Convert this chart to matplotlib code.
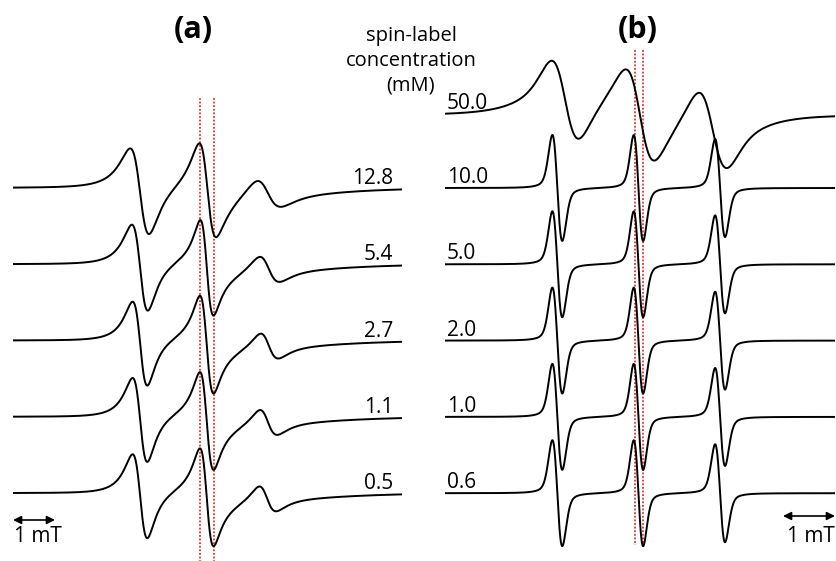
import numpy as np
import matplotlib.pyplot as plt

plt.rcParams['font.family'] = ['Open Sans', 'DejaVu Sans']

# ---- panel (a): spectra, top to bottom ----
labels_a = ["12.8", "5.4", "2.7", "1.1", "0.5"]
# per spectrum: low-field line, centre line, broad centre-line wing, high-field line
centre_a = [[3.04, 4.62, 4.62, 6.02],
            [3.04, 4.61, 4.61, 6.05],
            [3.04, 4.61, 4.61, 6.06],
            [3.04, 4.61, 4.61, 6.04],
            [3.04, 4.61, 4.61, 6.02]]
width_a = [[0.45, 0.38, 0.90, 0.58],
           [0.38, 0.30, 0.90, 0.48],
           [0.35, 0.31, 0.90, 0.43],
           [0.35, 0.31, 0.90, 0.42],
           [0.35, 0.31, 0.90, 0.41]]
amp_a = [[43, 42.7, 7, 14],
         [43, 44, 7, 13],
         [42, 45, 7, 13],
         [42, 45, 7, 13],
         [42, 45, 7, 13]]
# dispersion admixture of each line
disp_a = [[-9.7, 7.5, 0, 8.0],
          [-9.0, 4.0, 0, 7.0],
          [-8.5, 2.0, 0, 6.0],
          [-8.5, 2.0, 0, 6.0],
          [-8.5, 2.0, 0, 6.0]]
# slow baseline dip: centre (mT), width (mT), depth
dip_a = [5.6, 2.0, 5.0]
marks_a = [4.45, 4.79]      # dotted reference fields (mT)

# ---- panel (b) ----
labels_b = ["50.0", "10.0", "5.0", "2.0", "1.0", "0.6"]
centre_b = [[2.31, 3.75, 5.15],
            [2.16, 3.72, 5.29],
            [2.16, 3.72, 5.29],
            [2.16, 3.72, 5.29],
            [2.16, 3.72, 5.29],
            [2.16, 3.72, 5.29]]
width_b = [[0.54, 0.54, 0.56],
           [0.19, 0.18, 0.19],
           [0.19, 0.18, 0.19],
           [0.19, 0.18, 0.19],
           [0.19, 0.18, 0.19],
           [0.19, 0.18, 0.19]]
amp_b = [[42, 44, 41],
         [53, 53, 49],
         [53, 53, 49],
         [53, 53, 49],
         [53, 53, 49],
         [53, 53, 49]]
lorentz_b = [0.8, 0.3, 0.3, 0.3, 0.3, 0.3]
# exchange-broadened component: centre (mT), pp width (mT), amplitude
broad_b = [[3.72, 2.2, 12.6],
           [3.72, 2.2, 0],
           [3.72, 2.2, 0],
           [3.72, 2.2, 0],
           [3.72, 2.2, 0],
           [3.72, 2.2, 0]]
marks_b = [3.654, 3.808]


def dlor(x, x0, pp):
    u = (x - x0) / (pp * np.sqrt(3) / 2)
    return -u / (1 + u**2)**2 / 0.3248


def ddisp(x, x0, pp):
    u = (x - x0) / (pp * np.sqrt(3) / 2)
    return (1 - u**2) / (1 + u**2)**2


def dgau(x, x0, pp):
    u = (x - x0) / (pp / 2)
    return -u * np.exp(-u**2 / 2) / 0.6065


def lines(x, cs, ws, As, eta, Ds=None):
    y = np.zeros_like(x)
    Ds = Ds if Ds is not None else [0] * len(cs)
    for c, w, A, D in zip(cs, ws, As, Ds):
        y += A * (eta * dlor(x, c, w) + (1 - eta) * dgau(x, c, w))
        y += D * ddisp(x, c, w)
    return y


fig = plt.figure(figsize=(8.37, 5.61), dpi=100)
W, H = 837, 561
top = 188          # pixel row of the first baseline
step = 76.3

ax_a = fig.add_axes([13 / W, 0, 389 / W, 1])
ax_b = fig.add_axes([445 / W, 0, 390 / W, 1])
for ax in (ax_a, ax_b):
    ax.set_ylim(top - H, top)
    ax.axis('off')
ax_a.set_xlim(0, 389 / 42)
ax_b.set_xlim(0, 390 / 52)

xa = np.linspace(0, 389 / 42, 1500)
dip = -dip_a[2] * np.exp(-(xa - dip_a[0])**2 / (2 * dip_a[1]**2))
for i, lab in enumerate(labels_a):
    off = -i * step
    ya = lines(xa, centre_a[i], width_a[i], amp_a[i], 1.0, disp_a[i]) + dip
    ax_a.plot(xa, off + ya, color='black', lw=1.4, zorder=3)
    ax_a.text(9.05, off + 4, lab, ha='right', va='baseline', fontsize=15)
for m in marks_a:
    ax_a.plot([m, m], [top - 98, top - H], color='#e8322c', lw=1.3,
              ls=(0, (1, 1)), zorder=2)

xb = np.linspace(0, 390 / 52, 1500)
for i, lab in enumerate(labels_b):
    off = 73 if i == 0 else -(i - 1) * step
    yb = lines(xb, centre_b[i], width_b[i], amp_b[i], lorentz_b[i])
    yb += broad_b[i][2] * dgau(xb, broad_b[i][0], broad_b[i][1])
    ax_b.plot(xb, off + yb, color='black', lw=1.4, zorder=3)
    ax_b.text(0.04, off + 5 + (1 if i == 0 else 0), lab, ha='left',
              va='baseline', fontsize=15)
for m in marks_b:
    ax_b.plot([m, m], [top - 50, top - 545], color='#e8322c', lw=1.3,
              ls=(0, (1, 1)), zorder=2)

# 1 mT scale bars
arrow = dict(arrowstyle='<|-|>', color='black', lw=1.2,
             mutation_scale=12, shrinkA=0, shrinkB=0)
ax_a.annotate('', xy=(1, top - 520), xytext=(0, top - 520), arrowprops=arrow)
ax_a.text(0.03, top - 537, '1 mT', ha='left', va='center', fontsize=15)
ax_b.annotate('', xy=(7.5, top - 516), xytext=(6.5, top - 516), arrowprops=arrow)
ax_b.text(7.5, top - 537, '1 mT', ha='right', va='center', fontsize=15)

fig.text(193 / W, 1 - 30 / H, '(a)', ha='center', va='center',
         fontsize=22, fontweight='bold')
fig.text(638 / W, 1 - 30 / H, '(b)', ha='center', va='center',
         fontsize=22, fontweight='bold')
fig.text(411 / W, 1 - 61 / H, 'spin-label\nconcentration\n(mM)', ha='center',
         va='center', multialignment='center', fontsize=14.5, linespacing=1.3)

fig.savefig('out.png', dpi=100)
